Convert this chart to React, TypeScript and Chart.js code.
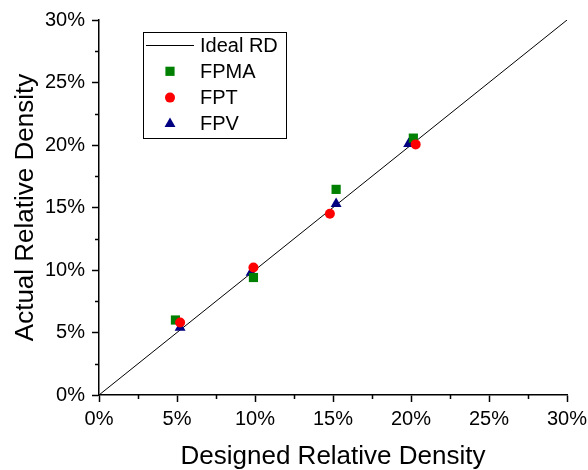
import React, { useEffect, useRef } from "react";
import { Chart, registerables } from "chart.js";

Chart.register(...registerables);

const FONT = "'Liberation Sans', Arial, Helvetica, sans-serif";

// Data (percent)
const idealX = [0, 30];
const idealY = [0, 30];
const fpmaX = [4.9, 9.9, 15.2, 20.15];
const fpmaY = [6.0, 9.4, 16.45, 20.55];
const fptX = [5.2, 9.9, 14.8, 20.3];
const fptY = [5.8, 10.2, 14.5, 20.05];
const fpvX = [5.2, 9.75, 15.2, 19.85];
const fpvY = [5.4, 9.8, 15.3, 20.1];
const majorTicks = [0, 5, 10, 15, 20, 25, 30];
const minorTicks = [2.5, 7.5, 12.5, 17.5, 22.5, 27.5];
const labels = ["Ideal RD", "FPMA", "FPT", "FPV"];
const xTitle = "Designed Relative Density";
const yTitle = "Actual Relative Density";

const zip = (xs: number[], ys: number[]) => xs.map((x, i) => ({ x, y: ys[i] }));

function drawMarker(ctx: CanvasRenderingContext2D, style: string, x: number, y: number, r: number, color: string) {
  ctx.save();
  ctx.fillStyle = color;
  ctx.beginPath();
  if (style === "rect") {
    const s = r * Math.SQRT1_2;
    ctx.rect(x - s, y - s, 2 * s, 2 * s);
  } else if (style === "triangle") {
    ctx.moveTo(x, y - r);
    ctx.lineTo(x + r * Math.sin(Math.PI / 3), y + r * 0.5);
    ctx.lineTo(x - r * Math.sin(Math.PI / 3), y + r * 0.5);
    ctx.closePath();
  } else {
    ctx.arc(x, y, r, 0, Math.PI * 2);
  }
  ctx.fill();
  ctx.restore();
}

const extrasPlugin = {
  id: "extras",
  afterDraw(chart: any) {
    const ctx: CanvasRenderingContext2D = chart.ctx;
    const xs = chart.scales.x;
    const ys = chart.scales.y;
    const area = chart.chartArea;
    // minor ticks
    ctx.save();
    ctx.strokeStyle = "#000";
    ctx.lineWidth = 1.5;
    ctx.beginPath();
    for (const v of minorTicks) {
      const px = Math.round(xs.getPixelForValue(v)) + 0.5;
      ctx.moveTo(px, area.bottom);
      ctx.lineTo(px, area.bottom + 4);
      const py = Math.round(ys.getPixelForValue(v)) + 0.5;
      ctx.moveTo(area.left, py);
      ctx.lineTo(area.left - 4, py);
    }
    ctx.stroke();
    ctx.restore();

    // legend
    const left = area.left + 44;
    const top = area.top + 12;
    const w = 143;
    const h = 106;
    ctx.save();
    ctx.fillStyle = "#fff";
    ctx.fillRect(left, top, w, h);
    ctx.strokeStyle = "#000";
    ctx.lineWidth = 1;
    ctx.strokeRect(Math.round(left) + 0.5, Math.round(top) + 0.5, w, h);
    ctx.font = `20px ${FONT}`;
    ctx.textBaseline = "middle";
    ctx.textAlign = "left";
    chart.data.datasets.forEach((ds: any, i: number) => {
      const cy = top + 13 + i * 26.3;
      if (ds.showLine) {
        ctx.strokeStyle = ds.borderColor;
        ctx.lineWidth = 1;
        ctx.beginPath();
        ctx.moveTo(left + 3, Math.round(cy) + 0.5);
        ctx.lineTo(left + 51, Math.round(cy) + 0.5);
        ctx.stroke();
      } else {
        drawMarker(ctx, ds.pointStyle, left + 27, cy, ds.pointRadius, ds.backgroundColor);
      }
      ctx.fillStyle = "#000";
      ctx.fillText(ds.label, left + 57, cy + 1);
    });
    ctx.restore();
  },
};

export default function App() {
  const ref = useRef<HTMLCanvasElement | null>(null);

  useEffect(() => {
    document.body.style.margin = "0";
    const canvas = ref.current!;
    const pct = (v: any) => (majorTicks.includes(Number(v)) ? `${v}%` : "");
    const chart = new Chart(canvas, {
      type: "scatter",
      data: {
        datasets: [
          {
            label: labels[0],
            data: zip(idealX, idealY),
            showLine: true,
            borderColor: "#000",
            borderWidth: 1,
            pointRadius: 0,
            order: 4,
          } as any,
          {
            label: labels[1],
            data: zip(fpmaX, fpmaY),
            pointStyle: "rect",
            pointRadius: 6.5,
            backgroundColor: "#008000",
            borderWidth: 0,
            order: 2,
          },
          {
            label: labels[2],
            data: zip(fptX, fptY),
            pointStyle: "circle",
            pointRadius: 5,
            backgroundColor: "#ff0000",
            borderWidth: 0,
            order: 1,
          },
          {
            label: labels[3],
            data: zip(fpvX, fpvY),
            pointStyle: "triangle",
            pointRadius: 6.3,
            backgroundColor: "#000080",
            borderWidth: 0,
            order: 3,
          },
        ],
      },
      options: {
        responsive: false,
        animation: false,
        devicePixelRatio: 1,
        layout: { padding: { top: 20, right: 21, left: 0, bottom: 0 } },
        plugins: { legend: { display: false }, tooltip: { enabled: false } },
        scales: {
          x: {
            type: "linear",
            min: 0,
            max: 30,
            afterFit: (s: any) => {
              s.height = 75;
              s.paddingRight = 0;
              s.paddingLeft = 0;
            },
            ticks: {
              stepSize: 5,
              callback: pct,
              color: "#000",
              font: { family: FONT, size: 20 },
              padding: 5,
              maxRotation: 0,
            },
            grid: { drawOnChartArea: false, tickLength: 7, color: "#000", tickWidth: 1.5 },
            border: { color: "#000", width: 1.5 },
            title: {
              display: true,
              text: xTitle,
              color: "#000",
              font: { family: FONT, size: 26 },
              padding: { top: 0, bottom: -2 },
            },
          },
          y: {
            type: "linear",
            min: 0,
            max: 30,
            afterFit: (s: any) => {
              s.width = 99;
              s.paddingTop = 0;
              s.paddingBottom = 0;
            },
            ticks: {
              stepSize: 5,
              callback: pct,
              color: "#000",
              font: { family: FONT, size: 20 },
              padding: 7,
            },
            grid: { drawOnChartArea: false, tickLength: 7, color: "#000", tickWidth: 1.5 },
            border: { color: "#000", width: 1.5 },
            title: {
              display: true,
              text: yTitle,
              color: "#000",
              font: { family: FONT, size: 26 },
              padding: { top: 10, bottom: 0 },
            },
          },
        },
      },
      plugins: [extrasPlugin],
    });
    return () => chart.destroy();
  }, []);

  return (
    <div style={{ width: 588, height: 470, background: "#fff" }}>
      <canvas ref={ref} width={588} height={470} style={{ display: "block" }} />
    </div>
  );
}
